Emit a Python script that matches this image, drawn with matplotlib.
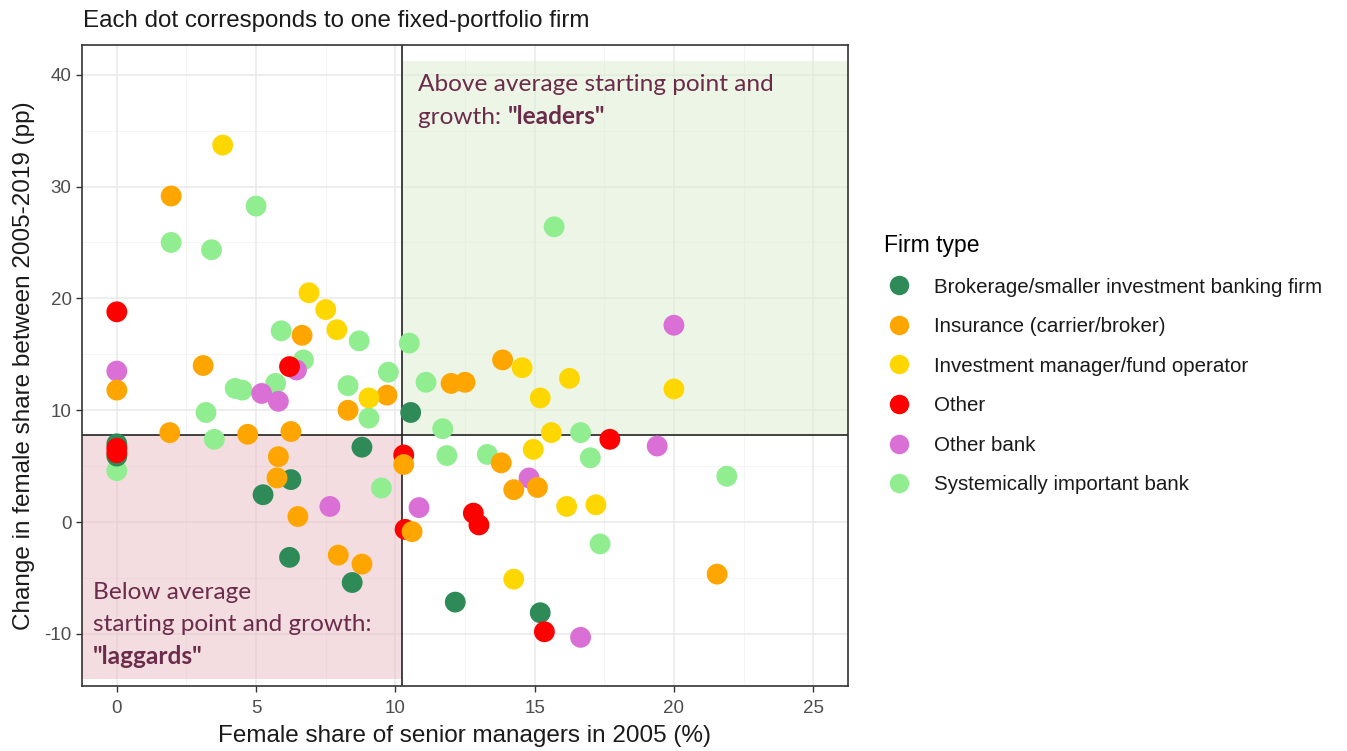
import matplotlib
matplotlib.use("Agg")
import matplotlib.pyplot as plt
from matplotlib.patches import Rectangle
from matplotlib.lines import Line2D

plt.rcParams["font.family"] = ["Liberation Sans", "DejaVu Sans"]
plt.rcParams["axes.unicode_minus"] = False

# ---------------- data ----------------
categories = [
    "Brokerage/smaller investment banking firm",
    "Insurance (carrier/broker)",
    "Investment manager/fund operator",
    "Other",
    "Other bank",
    "Systemically important bank",
]
colors = ["#2E8B57", "#FFA500", "#FFD700", "#FF0000", "#DA70D6", "#90EE90"]

brokerage_x = [0.0, 0.0, 10.55, 8.8, 6.25, 5.25, 6.2, 8.45, 12.15, 15.2]
brokerage_y = [7.0, 5.9, 9.8, 6.7, 3.8, 2.45, -3.15, -5.4, -7.15, -8.1]

insurance_x = [1.95, 3.1, 0.0, 6.65, 9.7, 8.3, 1.9, 4.7, 6.25, 5.8, 5.75, 6.5,
               10.3, 10.6, 7.95, 8.8, 13.85, 12.0, 12.5, 13.8, 15.1, 14.25, 21.55]
insurance_y = [29.15, 14.0, 11.8, 16.7, 11.35, 10.0, 8.0, 7.85, 8.1, 5.85, 3.95, 0.5,
               5.15, -0.85, -2.95, -3.75, 14.5, 12.4, 12.5, 5.3, 3.1, 2.9, -4.65]

investment_x = [3.8, 6.9, 7.5, 7.9, 9.05, 14.55, 16.25, 15.2, 15.6, 14.95,
                16.15, 17.2, 14.25, 20.0]
investment_y = [33.7, 20.5, 19.0, 17.2, 11.1, 13.8, 12.85, 11.1, 8.0, 6.5,
                1.4, 1.55, -5.1, 11.9]

other_x = [0.0, 0.0, 0.0, 6.2, 10.3, 10.35, 12.8, 13.0, 17.7, 15.35]
other_y = [18.8, 6.6, 6.2, 13.9, 6.0, -0.65, 0.8, -0.25, 7.4, -9.8]

otherbank_x = [0.0, 5.2, 5.8, 6.45, 7.65, 10.85, 14.8, 19.4, 20.0, 16.65]
otherbank_y = [13.5, 11.5, 10.8, 13.6, 1.4, 1.3, 3.95, 6.8, 17.6, -10.3]

sib_x = [1.95, 3.4, 5.0, 15.7, 5.9, 4.25, 4.5, 3.2, 3.5, 5.7, 6.7, 8.7, 10.5,
         9.75, 8.3, 9.05, 11.1, 11.7, 11.85, 13.3, 16.65, 17.0, 17.35, 21.9,
         9.5, 0.0]
sib_y = [25.0, 24.35, 28.25, 26.4, 17.1, 11.95, 11.8, 9.8, 7.4, 12.4, 14.5,
         16.2, 16.0, 13.4, 12.2, 9.3, 12.5, 8.35, 5.95, 6.05, 8.0, 5.75, -1.95,
         4.1, 3.05, 4.6]

x_mean = 10.25
y_mean = 7.8

series_x = [brokerage_x, insurance_x, investment_x, other_x, otherbank_x, sib_x]
series_y = [brokerage_y, insurance_y, investment_y, other_y, otherbank_y, sib_y]
draw_order = [5, 4, 0, 3, 1, 2]

# ---------------- figure ----------------
W, H = 1347, 751
fig = plt.figure(figsize=(W / 100, H / 100), dpi=100)
ax = fig.add_axes([82 / W, 1 - 686 / H, (848 - 82) / W, (686 - 45) / H])

ax.set_xlim(-1.25, 26.25)
ax.set_ylim(-14.65, 42.65)

# grid (theme_bw)
for v in [2.5, 7.5, 12.5, 17.5, 22.5]:
    ax.axvline(v, color="#F2F2F2", lw=0.6, zorder=0)
for v in [-5, 5, 15, 25, 35]:
    ax.axhline(v, color="#F2F2F2", lw=0.6, zorder=0)
for v in [0, 5, 10, 15, 20, 25]:
    ax.axvline(v, color="#EBEBEB", lw=1.2, zorder=0)
for v in [-10, 0, 10, 20, 30, 40]:
    ax.axhline(v, color="#EBEBEB", lw=1.2, zorder=0)

# quadrant shading
ax.add_patch(Rectangle((-1.25, -14.0), x_mean + 1.25, y_mean + 14.0,
                       facecolor="#E8B4BB", alpha=0.45, edgecolor="none", zorder=1))
ax.add_patch(Rectangle((x_mean, y_mean), 26.25 - x_mean, 41.2 - y_mean,
                       facecolor="#DCEFCF", alpha=0.5, edgecolor="none", zorder=1))
ax.axvline(x_mean, color="#222222", lw=1.2, zorder=2)
ax.axhline(y_mean, color="#222222", lw=1.2, zorder=2)

# points
for i in draw_order:
    ax.scatter(series_x[i], series_y[i], s=225, color=colors[i],
               edgecolors="none", zorder=3)

# axes styling
ax.set_xticks([0, 5, 10, 15, 20, 25])
ax.set_yticks([-10, 0, 10, 20, 30, 40])
ax.tick_params(axis="both", colors="#333333", labelcolor="#4D4D4D",
               labelsize=13.5, length=4, width=1)
ax.tick_params(axis="x", pad=6)
for sp in ax.spines.values():
    sp.set_color("#333333")
    sp.set_linewidth(1.2)

ax.set_xlabel("Female share of senior managers in 2005 (%)", fontsize=17.5,
              color="#1A1A1A", labelpad=6)
ax.set_ylabel("Change in female share between 2005-2019 (pp)", fontsize=17.5,
              color="#1A1A1A", labelpad=7)
fig.text(83 / W, 1 - 21 / H, "Each dot corresponds to one fixed-portfolio firm",
         fontsize=17.4, color="#1A1A1A", va="center", ha="left")

# annotations
tcol = "#6B2B4A"
afont = "Lato"
afs = 17.6
ax.text(10.83, 38.2, "Above average starting point and",
        fontsize=afs, color=tcol, family=afont, va="bottom", ha="left")
t2 = ax.text(10.83, 35.2, "growth: ", fontsize=afs, color=tcol, family=afont,
             va="bottom", ha="left")
ax.annotate('"leaders"', xy=(1, 0), xycoords=t2, fontsize=afs, color=tcol,
            family=afont, fontweight="bold", va="bottom", ha="left")

ax.text(-0.85, -7.25, "Below average", fontsize=afs, color=tcol, family=afont,
        va="bottom", ha="left")
ax.text(-0.85, -10.1, "starting point and growth:", fontsize=afs, color=tcol,
        family=afont, va="bottom", ha="left")
ax.text(-0.85, -13.05, '"laggards"', fontsize=afs, color=tcol, family=afont,
        fontweight="bold", va="bottom", ha="left")

# legend
handles = [Line2D([0], [0], marker="o", linestyle="none", markersize=14,
                  markerfacecolor=c, markeredgecolor="none") for c in colors]
leg = fig.legend(handles, categories, title="Firm type", frameon=False,
                 loc="upper left", bbox_to_anchor=(884 / W, 1 - 234 / H),
                 fontsize=14.8, title_fontsize=16.5, labelspacing=1.0,
                 handletextpad=0.95, borderpad=0, handlelength=1.5,
                 borderaxespad=0)
leg._legend_box.align = "left"
for t in leg.get_texts():
    t.set_color("#1A1A1A")

fig.savefig("out.png", dpi=100)
